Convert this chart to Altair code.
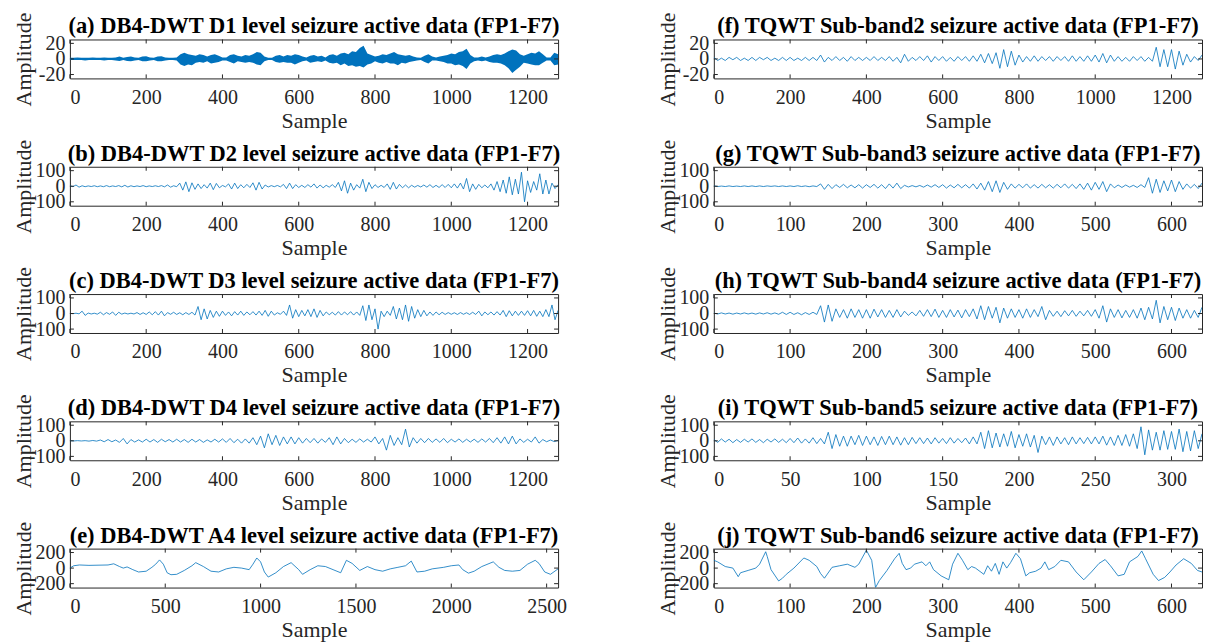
import altair as alt
import pandas as pd

# ------------------------------------------------------------------ data
# (a) DB4-DWT D1: upper / lower envelope of the dense signal, every 10 samples
a_step = 10
a_hi = [1.5, 1.5, 2, 1.5, 1.5, 1.5, 2, 1.5, 1.5, 2,
        1.5, 1.5, 2, 3, 1.5, 2.5, 3, 2, 1.5, 3,
        3.5, 2, 1.5, 3, 3.5, 2, 1.5, 1.5, 2, 6,
        8, 6, 5, 4, 6, 5, 3, 5, 6, 4,
        2, 2, 5, 6, 4, 3, 5, 4, 6, 9,
        8, 3, 1.5, 1.5, 4, 5, 3, 5, 4, 6,
        5, 3, 2, 4, 5, 3, 4, 2, 5, 6,
        4, 7, 8, 6, 10, 9, 14, 17, 7, 5,
        3, 4, 6, 5, 7, 9, 6, 5, 4, 5,
        3, 2, 1.5, 4, 6, 3, 2, 3, 4, 5,
        7, 6, 9, 10, 13, 5, 2, 2, 3, 2,
        3, 5, 6, 5, 7, 10, 12, 11, 6, 4,
        6, 8, 7, 10, 6, 2, 2, 8, 6]
a_lo = [-1.5, -1.5, -1.5, -1.5, -2, -1.5, -1.5, -1.5, -1.5, -2,
        -1.5, -1.5, -2, -2.5, -1.5, -2.5, -3, -2, -1.5, -3,
        -3, -2, -1.5, -3, -3, -2, -1.5, -1.5, -2, -7,
        -9, -7, -8, -5, -4, -5, -3, -6, -5, -4,
        -2, -2, -4, -6, -3, -4, -5, -4, -5, -7,
        -8, -3, -1.5, -1.5, -4, -5, -4, -5, -5, -7,
        -5, -3, -2, -5, -4, -3, -4, -2, -5, -6,
        -5, -8, -6, -9, -8, -10, -9, -11, -7, -6,
        -3, -5, -6, -4, -6, -6, -8, -5, -6, -4,
        -3, -2, -1.5, -4, -6, -2, -2, -3, -4, -6,
        -6, -8, -7, -9, -13, -6, -3, -2, -3, -2,
        -4, -5, -5, -6, -8, -12, -18, -14, -10, -5,
        -6, -7, -8, -8, -5, -2, -2, -8, -7]

# (b) DB4-DWT D2, extrema every 8 samples
b_step = 8
b_vals = [3, -3, 8, -6, 3, -3, 2, -2, 3, -3,
          2, -3, 4, -3, 2, -2, 4, -4, 6, -5,
          3, -3, 2, -2, 4, -3, 2, -2, 3, -2,
          4, -4, 8, -6, 3, -3, 20, -25, 28, -35,
          22, -20, 15, -15, 10, -12, 20, -22, 18, -10,
          5, -4, 15, -18, 20, -15, 10, -10, 12, -8,
          22, -25, 25, -18, 8, -5, 4, -3, 5, -4,
          12, -15, 20, -15, 10, -8, 6, -8, 10, -6,
          15, -12, 8, -10, 6, -6, 10, -8, 25, -30,
          35, -45, 20, -25, 10, -12, 45, -35, 25, -15,
          10, -8, 6, -8, 15, -20, 25, -18, 12, -10,
          8, -10, 6, -6, 5, -5, 8, -6, 10, -8,
          6, -8, 10, -8, 12, -10, 15, -12, 20, -18,
          50, -35, 15, -20, 12, -10, 8, -10, 15, -25,
          30, -35, 40, -45, 60, -55, 45, -50, 90, -100,
          35, -40, 30, -25, 80, -50, 40, -50, 20, -15,
          10]

# (c) DB4-DWT D3, extrema every 8 samples
c_step = 8
c_vals = [1, -1, 2, -2, 15, -12, 3, -3, 2, -4,
          8, -8, 6, -5, 10, -12, 8, -4, 3, -3,
          2, -3, 6, -6, 5, -6, 10, -8, 12, -10,
          15, -15, 6, -5, 8, -6, 5, -8, 6, -6,
          8, -10, 45, -40, 30, -35, 20, -25, 15, -18,
          15, -12, 10, -15, 12, -10, 15, -12, 10, -8,
          12, -10, 15, -12, 20, -18, 15, -10, 5, -5,
          15, -12, 55, -30, 25, -20, 20, -15, 25, -20,
          30, -25, 20, -15, 10, -8, 8, -10, 12, -10,
          10, -8, 12, -10, 10, -12, 50, -45, 55, -40,
          30, -100, 15, -20, 15, -12, 45, -35, 35, -40,
          55, -50, 45, -30, 25, -20, 20, -15, 10, -12,
          10, -8, 8, -6, 6, -5, 5, -6, 6, -5,
          5, -6, 8, -6, 15, -15, 10, -8, 10, -10,
          12, -10, 20, -20, 18, -15, 15, -12, 15, -12,
          18, -15, 20, -18, 15, -20, 25, -20, 55, -40,
          20]

# (d) DB4-DWT D4, extrema every 10 samples
d_step = 10
d_vals = [1, -1, 1, -1, 1, -2, 2, -2, 5, -6,
          8, -6, 5, -10, 15, -20, 8, -8, 6, -8,
          10, -8, 8, -10, 10, -6, 8, -8, 10, -8,
          8, -10, 10, -8, 8, -10, 6, -8, 10, -8,
          12, -10, 15, -12, 10, -15, 12, -15, 20, -25,
          30, -45, 45, -25, 35, -30, 25, -20, 25, -20,
          20, -15, 15, -12, 15, -15, 12, -10, 20, -25,
          25, -20, 15, -12, 10, -10, 12, -8, 10, -8,
          25, -20, 15, -60, 35, -30, 20, -25, 75, -40,
          20, -15, 15, -12, 15, -10, 12, -10, 15, -12,
          10, -8, 12, -10, 10, -8, 10, -10, 12, -8,
          15, -12, 20, -15, 25, -20, 30, -20, 12, -10,
          10, -8, 25, -15, 8, -6, 5, -5, 3]

# (e) DB4-DWT A4, sample positions and values
e_x = [0, 20, 50, 100, 200, 230, 260, 280, 300, 330, 360, 400, 430, 450, 470,
       490, 510, 530, 560, 600, 640, 660, 700, 740, 780, 820, 860, 900, 940, 960,
       980, 1000, 1020, 1040, 1080, 1120, 1160, 1200, 1220, 1260, 1300, 1340, 1380, 1420, 1450,
       1480, 1520, 1560, 1600, 1640, 1680, 1720, 1760, 1790, 1820, 1860, 1900, 1960, 2000, 2040,
       2060, 2090, 2120, 2160, 2220, 2250, 2280, 2320, 2360, 2400, 2440, 2460, 2490, 2520, 2560]
e_y = [0, 30, 40, 35, 40, 55, 20, 0, 15, -20, -50, -40, 10, 50, 105,
       50, -60, -85, -80, -30, 30, 70, 20, -40, -50, -10, 10, 0, -20, 50,
       130, 80, -50, -115, -60, 20, 70, -20, -80, -20, 30, 20, -20, -60, 100,
       60, -30, 20, -20, -40, -10, 10, 30, 90, -50, -40, -10, 10, 30, 40,
       -20, -65, -40, 20, 80, 10, -30, -40, -30, 50, 100, 60, -50, -80, -10]

# (f) TQWT Sub-band2, extrema every 10 samples
f_step = 10
f_vals = [2, -2, 1, -2, 2, -1, 2, -2, 1, -2,
          2, -2, 2, -1, 2, -2, 1, -2, 2, -2,
          2, -2, 1, -2, 2, -2, 2, -2, 5, -4,
          2, -2, 3, -2, 2, -3, 3, -2, 2, -2,
          2, -2, 3, -2, 2, -2, 3, -3, 2, -5,
          6, -3, 2, -2, 3, -2, 4, -4, 3, -2,
          3, -3, 2, -3, 3, -2, 3, -3, 4, -3,
          6, -5, 7, -6, 8, -12, 12, -10, 10, -8,
          5, -4, 3, -3, 4, -3, 3, -2, 3, -3,
          3, -2, 3, -3, 4, -3, 3, -3, 4, -3,
          5, -4, 7, -5, 5, -3, 3, -3, 2, -3,
          3, -2, 3, -3, 2, -3, 15, -10, 12, -10,
          12, -13, 10, -8, 6, -4, 3, -2, 5]

# (g) TQWT Sub-band3, extrema every 5 samples
g_step = 5
g_vals = [2, -2, 1, -2, 2, -2, 1, -2, 2, -2,
          2, -2, 2, -2, 2, -1, 2, -2, 2, -2,
          2, -2, 3, -2, 2, -3, 2, -2, 15, -20,
          12, -15, 10, -8, 12, -10, 8, -10, 10, -12,
          10, -8, 12, -12, 10, -15, 15, -12, 20, -15,
          6, -5, 4, -4, 5, -6, 8, -6, 10, -8,
          10, -12, 8, -10, 12, -10, 10, -12, 15, -18,
          20, -25, 30, -35, 35, -40, 25, -20, 15, -12,
          12, -10, 15, -12, 10, -12, 12, -10, 10, -12,
          12, -10, 15, -12, 12, -15, 15, -20, 20, -25,
          25, -20, 30, -35, 15, -10, 8, -8, 8, -6,
          6, -8, 10, -8, 55, -45, 45, -40, 35, -30,
          40, -35, 30, -20, 15, -12, 12, -15, 20]

# (h) TQWT Sub-band4, extrema every 5 samples
h_step = 5
h_vals = [3, -3, 4, -3, 3, -4, 3, -3, 4, -3,
          3, -4, 4, -3, 5, -4, 4, -5, 8, -6,
          8, -6, 5, -8, 6, -6, 8, -6, 50, -55,
          55, -50, 30, -25, 25, -30, 30, -25, 25, -30,
          25, -30, 28, -22, 25, -25, 20, -25, 25, -22,
          15, -12, 10, -15, 20, -18, 25, -20, 28, -25,
          20, -25, 25, -22, 22, -28, 25, -20, 30, -35,
          50, -40, 45, -30, 40, -60, 35, -30, 30, -25,
          25, -30, 30, -25, 25, -20, 45, -40, 20, -18,
          15, -20, 18, -15, 20, -18, 15, -15, 20, -18,
          25, -30, 50, -55, 30, -25, 25, -28, 20, -25,
          25, -30, 35, -40, 40, -35, 85, -60, 45, -40,
          40, -45, 35, -30, 25, -30, 20, -25, 40]

# (i) TQWT Sub-band5, extrema every 2.5 samples
i_step = 2.5
i_vals = [8, -10, 12, -8, 10, -12, 8, -10, 10, -8,
          12, -10, 8, -12, 10, -8, 12, -10, 10, -12,
          15, -12, 18, -15, 12, -15, 20, -18, 15, -20,
          55, -50, 40, -35, 30, -35, 30, -25, 35, -30,
          30, -25, 25, -30, 28, -25, 30, -25, 25, -28,
          20, -25, 22, -18, 20, -18, 18, -20, 20, -15,
          15, -18, 20, -15, 15, -12, 18, -20, 25, -20,
          55, -50, 65, -45, 50, -40, 45, -35, 60, -45,
          40, -35, 45, -40, 35, -75, 30, -25, 25, -30,
          25, -20, 20, -25, 25, -20, 20, -18, 22, -20,
          25, -20, 30, -28, 25, -30, 35, -30, 40, -35,
          45, -50, 90, -90, 70, -60, 55, -60, 65, -55,
          60, -55, 75, -70, 60, -65, 65, -50, 45]

# (j) TQWT Sub-band6, sample positions and values
j_x = [0, 5, 15, 25, 32, 35, 45, 55, 60, 68, 70, 75, 85, 90, 95,
       105, 118, 125, 135, 140, 145, 155, 165, 175, 185, 190, 200, 207, 212, 217,
       227, 237, 243, 247, 252, 258, 263, 273, 278, 283, 288, 298, 308, 313, 320,
       326, 333, 338, 343, 354, 359, 364, 369, 374, 379, 384, 389, 396, 402, 409,
       414, 422, 429, 434, 439, 447, 455, 465, 475, 485, 495, 505, 513, 520, 530,
       538, 545, 556, 561, 566, 576, 583, 591, 598, 606, 616, 626, 634, 640]
j_y = [100, 80, 20, 0, -110, -60, -30, 0, 50, 210, 150, -20, -165, -130, -80,
       0, 130, 100, 20, -70, -130, 10, 30, 50, 10, 50, 230, 100, -250, -160,
       -30, 120, 190, 60, -20, 0, 50, 80, 30, 80, -20, -100, -150, 50, 190,
       100, -20, 20, 0, -80, 30, -40, 60, -80, 80, 0, 70, 190, 120, -100,
       -60, -40, 0, 80, -20, 20, 100, 80, -50, -150, -50, 60, 110, 30, -100,
       -80, 80, 150, 220, 120, -80, -160, -120, -50, 40, 120, 60, -30, -50]

titles = [
    "(a) DB4-DWT D1 level seizure active data (FP1-F7)",
    "(b) DB4-DWT D2 level seizure active data (FP1-F7)",
    "(c) DB4-DWT D3 level seizure active data (FP1-F7)",
    "(d) DB4-DWT D4 level seizure active data (FP1-F7)",
    "(e) DB4-DWT A4 level seizure active data (FP1-F7)",
    "(f) TQWT Sub-band2 seizure active data (FP1-F7)",
    "(g) TQWT Sub-band3 seizure active data (FP1-F7)",
    "(h) TQWT Sub-band4 seizure active data (FP1-F7)",
    "(i) TQWT Sub-band5 seizure active data (FP1-F7)",
    "(j) TQWT Sub-band6 seizure active data (FP1-F7)",
]
xt_1280 = [0, 200, 400, 600, 800, 1000, 1200]
xt_2560 = [0, 500, 1000, 1500, 2000, 2500]
xt_640 = [0, 100, 200, 300, 400, 500, 600]
xt_320 = [0, 50, 100, 150, 200, 250, 300]
yt_20 = [-20, 0, 20]
yt_100 = [-100, 0, 100]
yt_200 = [-200, 0, 200]

# ------------------------------------------------------------------ style
FONT = "Liberation Serif"
W, H = 489, 39
BLUE = "#0072BD"
AX = "#262626"
AXSTYLE = dict(labelOverlap=False, labelFont=FONT, labelFontSize=20, labelColor=AX,
               titleFont=FONT, titleFontSize=22, titleFontWeight="normal", titleColor=AX)


def seq(vals, step):
    return pd.DataFrame({"x": [i * step for i in range(len(vals))], "y": vals})


def panel(df, title, xmax, xticks, ymax, yticks, area=False):
    xs = alt.Scale(domain=[0, xmax], nice=False, zero=False)
    ys = alt.Scale(domain=[-ymax, ymax], nice=False)
    xaxis = alt.Axis(values=xticks, title="Sample", orient="bottom", **AXSTYLE)
    yaxis = alt.Axis(values=yticks, title="Amplitude", orient="left", **AXSTYLE)
    base = alt.Chart(df)
    if area:
        main = base.mark_area(color=BLUE, clip=True).encode(
            x=alt.X("x:Q", scale=xs, axis=xaxis),
            y=alt.Y("hi:Q", scale=ys, axis=yaxis),
            y2="lo:Q")
    else:
        main = base.mark_line(color=BLUE, strokeWidth=0.8, clip=True).encode(
            x=alt.X("x:Q", scale=xs, axis=xaxis),
            y=alt.Y("y:Q", scale=ys, axis=yaxis))
    xt = pd.DataFrame({"x": xticks})
    yt = pd.DataFrame({"y": yticks})
    tk = dict(color=AX, strokeWidth=1)
    top = alt.Chart(xt).mark_rule(**tk).encode(
        x=alt.X("x:Q", scale=xs, axis=xaxis), y=alt.value(0), y2=alt.value(4))
    bot = alt.Chart(xt).mark_rule(**tk).encode(
        x=alt.X("x:Q", scale=xs, axis=xaxis), y=alt.value(H), y2=alt.value(H - 4))
    lft = alt.Chart(yt).mark_rule(**tk).encode(
        y=alt.Y("y:Q", scale=ys, axis=yaxis), x=alt.value(0), x2=alt.value(4))
    rgt = alt.Chart(yt).mark_rule(**tk).encode(
        y=alt.Y("y:Q", scale=ys, axis=yaxis), x=alt.value(W), x2=alt.value(W - 4))
    return alt.layer(main, top, bot, lft, rgt).properties(
        width=W, height=H,
        title=alt.TitleParams(title, font=FONT, fontSize=22.5, fontWeight="bold",
                              color="black", offset=-26, anchor="middle", frame="group"))


a_df = pd.DataFrame({"x": [i * a_step for i in range(len(a_hi))], "hi": a_hi, "lo": a_lo})

pa = panel(a_df, titles[0], 1280, xt_1280, 25, yt_20, area=True)
pb = panel(seq(b_vals, b_step), titles[1], 1280, xt_1280, 125, yt_100)
pc = panel(seq(c_vals, c_step), titles[2], 1280, xt_1280, 125, yt_100)
pd_ = panel(seq(d_vals, d_step), titles[3], 1280, xt_1280, 125, yt_100)
pe = panel(pd.DataFrame({"x": e_x, "y": e_y}), titles[4], 2560, xt_2560, 250, yt_200)
pf = panel(seq(f_vals, f_step), titles[5], 1280, xt_1280, 25, yt_20)
pg = panel(seq(g_vals, g_step), titles[6], 640, xt_640, 125, yt_100)
ph = panel(seq(h_vals, h_step), titles[7], 640, xt_640, 125, yt_100)
pi = panel(seq(i_vals, i_step), titles[8], 320, xt_320, 125, yt_100)
pj = panel(pd.DataFrame({"x": j_x, "y": j_y}), titles[9], 640, xt_640, 250, yt_200)

chart = alt.concat(pa, pf, pb, pg, pc, ph, pd_, pi, pe, pj, columns=2,
                   spacing={"row": 88.5, "column": 156}, bounds="flush").properties(
    padding={"left": 4, "top": 2, "right": 0, "bottom": 0}
).configure(
    font=FONT
).configure_view(
    stroke=AX, strokeWidth=1
).configure_axis(
    grid=False, ticks=False, domain=False, labelFont=FONT, labelFontSize=20,
    labelColor=AX, titleFont=FONT, titleFontSize=22, titleFontWeight="normal",
    titleColor=AX, labelExpr="'' + datum.value", labelOverlap=False
).configure_axisX(
    labelPadding=9, titlePadding=3
).configure_axisY(
    labelPadding=5, titlePadding=0, minExtent=34, maxExtent=34
)

chart.save("out.html", embed_options={"renderer": "svg", "actions": False})
